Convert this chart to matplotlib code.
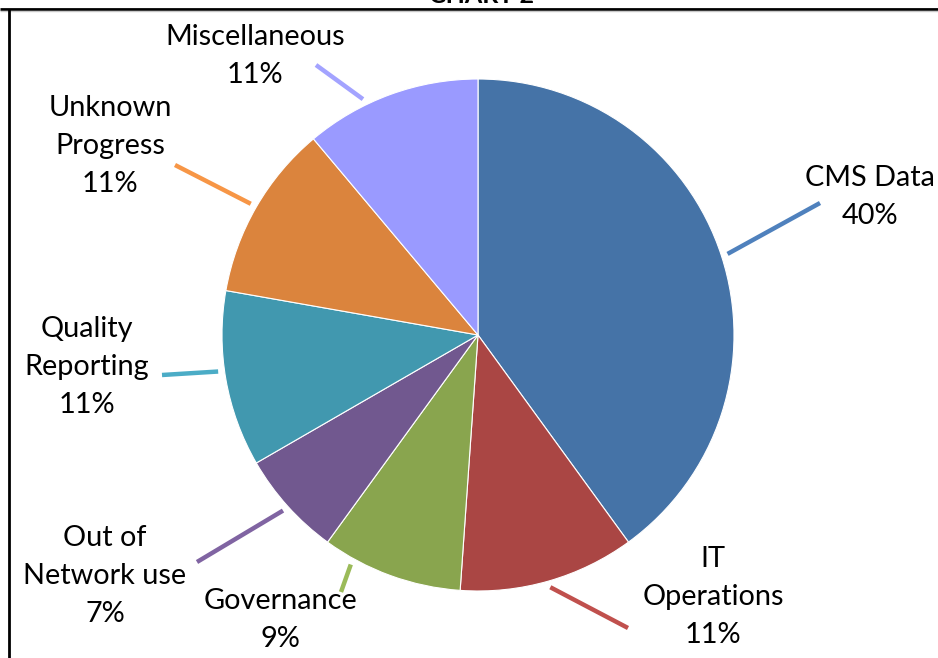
import matplotlib
matplotlib.use("Agg")
import matplotlib.pyplot as plt
import numpy as np

# ---- data ----
categories = ["CMS Data", "IT Operations", "Governance", "Out of Network use",
              "Quality Reporting", "Unknown Progress", "Miscellaneous"]
counts = [18, 5, 4, 3, 5, 5, 5]
label_text = ["CMS Data\n40%", "IT\nOperations\n11%", "Governance\n9%",
              "Out of\nNetwork use\n7%", "Quality\nReporting\n11%",
              "Unknown\nProgress\n11%", "Miscellaneous\n11%"]
title = "CHART 2"

# ---- style ----
slice_colors = ["#4573A7", "#AA4644", "#89A54E", "#71588F", "#4198AF", "#DB843D", "#9A9AFF"]
line_colors = ["#4F81BD", "#C0504D", "#9BBB59", "#8064A2", "#4BACC6", "#F79646", "#A3A3FF"]

W, H = 938, 658
fig = plt.figure(figsize=(W / 100, H / 100), dpi=100)
ax = fig.add_axes([0, 0, 1, 1])

def Y(py):
    return H - py

cx, cy, R = 478, Y(335), 256
wedges, _ = ax.pie(counts, colors=slice_colors, startangle=90, counterclock=False,
                   center=(cx, cy), radius=R,
                   wedgeprops=dict(edgecolor="white", linewidth=0.8))
ax.set_xlim(0, W)
ax.set_ylim(0, H)
ax.set_aspect("equal")
ax.axis("off")

# label centres (pixel coords) and leader outer ends
label_pos = [(870, 197), (713, 597), (280, 620), (105, 576), (87, 367), (110, 146), (255, 56)]
leader_end = [(820, 203), (628, 628), (341, 592), (197, 562), (162, 375), (175, 165), (316, 65)]
leader_ang_shift = [0, 0, 9, 0, 2, 0, -6]  # degrees, clockwise shift of anchor

font = ["Lato", "DejaVu Sans"]
for i, w in enumerate(wedges):
    mid = 0.5 * (w.theta1 + w.theta2) - leader_ang_shift[i]
    rad = np.deg2rad(mid)
    x0 = cx + R * 1.025 * np.cos(rad)
    y0 = cy + R * 1.025 * np.sin(rad)
    ex, ey = leader_end[i]
    ax.plot([x0, ex], [y0, Y(ey)], color=line_colors[i], lw=3.2, solid_capstyle="butt")
    lx, ly = label_pos[i]
    ax.text(lx, Y(ly), label_text[i], ha="center", va="center", fontsize=20.8,
            family=font, linespacing=1.575, color="black")

# frame lines (chart border cropped)
ax.plot([0, W + 5], [Y(9), Y(9)], color="black", lw=2, solid_capstyle="butt")
ax.plot([0, W + 5], [Y(11), Y(11)], color="#c8c8c8", lw=1, solid_capstyle="butt")
ax.plot([9, 9], [Y(9), -5], color="black", lw=2, solid_capstyle="butt")
ax.text(481, Y(3), title, ha="center", va="baseline", fontsize=18, fontweight="bold",
        family=font, color="black")

fig.savefig("out.png", dpi=100)
